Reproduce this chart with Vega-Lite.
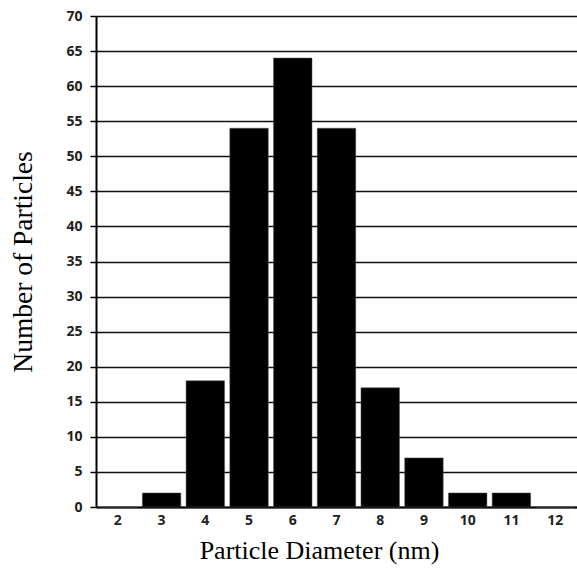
{
  "$schema": "https://vega.github.io/schema/vega-lite/v6.json",
  "autosize": "none",
  "width": 481,
  "height": 491,
  "padding": {"left": 96, "top": 16, "right": 0, "bottom": 64},
  "background": "white",
  "data": {"values": [
    {"d": "2", "n": 0}, {"d": "3", "n": 2}, {"d": "4", "n": 18}, {"d": "5", "n": 54},
    {"d": "6", "n": 64}, {"d": "7", "n": 54}, {"d": "8", "n": 17}, {"d": "9", "n": 7},
    {"d": "10", "n": 2}, {"d": "11", "n": 2}, {"d": "12", "n": 0}
  ]},
  "mark": {"type": "bar", "color": "black", "stroke": "#555", "strokeWidth": 0.5},
  "encoding": {
    "x": {"field": "d", "type": "ordinal", "sort": null,
      "scale": {"paddingInner": 0.12, "paddingOuter": 0.06},
      "axis": {"title": "Particle Diameter (nm)", "labelAngle": 0, "ticks": false,
        "domainColor": "black", "domainWidth": 2, "labelPadding": 6,
        "labelFont": "Open Sans", "labelFontSize": 14, "labelFontWeight": "bold", "labelColor": "#222",
        "titleFont": "Liberation Serif", "titleFontSize": 26, "titleFontWeight": "normal", "titleColor": "black",
        "titlePadding": 10, "titleX": 223}},
    "y": {"field": "n", "type": "quantitative",
      "scale": {"domain": [0, 70], "nice": false},
      "axis": {"title": "Number of Particles", "values": [0,5,10,15,20,25,30,35,40,45,50,55,60,65,70],
        "grid": true, "gridColor": "#111", "gridWidth": 1.5,
        "domainColor": "black", "domainWidth": 2, "tickColor": "black", "tickWidth": 1.5, "tickSize": 6,
        "labelPadding": 8, "labelFont": "Open Sans", "labelFontSize": 14, "labelFontWeight": "bold", "labelColor": "#222",
        "titleFont": "Liberation Serif", "titleFontSize": 27.5, "titleFontWeight": "normal", "titleColor": "black", "titlePadding": 28}}
  },
  "config": {"view": {"stroke": null}}
}
